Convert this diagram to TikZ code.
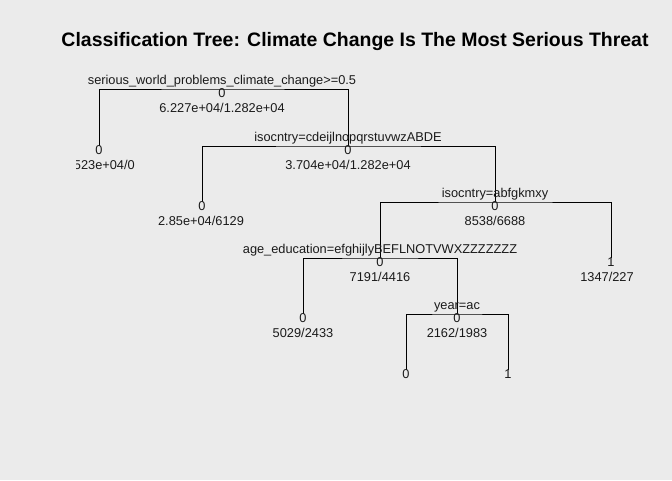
\documentclass[tikz,border=0pt]{standalone}
\usepackage{fontspec}
\setmainfont{Liberation Sans}
\usetikzlibrary{positioning,calc}
\definecolor{bgGray}{HTML}{EBEBEB}
\definecolor{inkT}{HTML}{1A1A1A}

\begin{document}
\begin{tikzpicture}[x=0.75pt,y=-0.75pt,
  edge/.style={draw=black,line width=0.75pt},
  split/.style={font=\fontsize{9.6}{11}\selectfont,text=inkT,anchor=base,inner sep=0pt},
  cls/.style={font=\fontsize{9.6}{11}\selectfont,text=inkT,anchor=base,inner sep=0pt},
  stat/.style={font=\fontsize{9.6}{11}\selectfont,text=inkT,anchor=base,inner sep=0pt},
  ttl/.style={font=\fontsize{14.6}{17}\selectfont\bfseries,text=black,anchor=base,inner sep=0pt}]

  \fill[bgGray] (0,0) rectangle (672,480);
  \useasboundingbox (0,0) rectangle (672,480);

  \node[ttl] (title) at (355,46) {Classification Tree: Climate Change Is The Most Serious Threat};

  % split points and leaves
  \coordinate (root) at (222,89);
  \coordinate (leafA) at (99,146);
  \coordinate (n2) at (348,146);
  \coordinate (leafB) at (202,202);
  \coordinate (n3) at (495,202);
  \coordinate (n4) at (380,258);
  \coordinate (leafC) at (611,258);
  \coordinate (leafD) at (303,314);
  \coordinate (n5) at (457,314);
  \coordinate (leafE) at (406,370);
  \coordinate (leafF) at (508,370);

  \draw[edge] (leafA) |- (root) -| (n2);
  \draw[edge] (leafB) |- (n2) -| (n3);
  \draw[edge] (n4) |- (n3) -| (leafC);
  \draw[edge] (leafD) |- (n4) -| (n5);
  \draw[edge] (leafE) |- (n5) -| (leafF);

  \node[split] (sRoot) at ($(root)+(0,-5)$) {serious\_world\_problems\_climate\_change>=0.5};
  \node[split] (s2) at ($(n2)+(0,-5)$) {isocntry=cdeijlnopqrstuvwzABDE};
  \node[split] (s3) at ($(n3)+(0,-5)$) {isocntry=abfgkmxy};
  \node[split] (s4) at ($(n4)+(0,-5)$) {age\_education=efghijlyBEFLNOTVWXZZZZZZZ};
  \node[split] (s5) at ($(n5)+(0,-5)$) {year=ac};

  \node[cls] (cRoot) at ($(root)+(0,8)$) {0};
  \node[cls] (cA) at ($(leafA)+(0,8)$) {0};
  \node[cls] (c2) at ($(n2)+(0,8)$) {0};
  \node[cls] (cB) at ($(leafB)+(0,8)$) {0};
  \node[cls] (c3) at ($(n3)+(0,8)$) {0};
  \node[cls] (c4) at ($(n4)+(0,8)$) {0};
  \node[cls] (cC) at ($(leafC)+(0,8)$) {1};
  \node[cls] (cD) at ($(leafD)+(0,8)$) {0};
  \node[cls] (c5) at ($(n5)+(0,8)$) {0};
  \node[cls] (cE) at ($(leafE)+(0,8)$) {0};
  \node[cls] (cF) at ($(leafF)+(0,8)$) {1};

  \node[stat] (tRoot) at ($(root)+(0,23)$) {6.227e+04/1.282e+04};
  \begin{scope}
    \clip (76,0) rectangle (672,480);
    \node[stat] (tA) at ($(leafA)+(0,23)$) {2.523e+04/0};
  \end{scope}
  \node[stat] (t2) at ($(n2)+(0,23)$) {3.704e+04/1.282e+04};
  \node[stat] (tB) at ($(leafB)+(-1,23)$) {2.85e+04/6129};
  \node[stat] (t3) at ($(n3)+(0,23)$) {8538/6688};
  \node[stat] (t4) at ($(n4)+(0,23)$) {7191/4416};
  \node[stat] (tC) at ($(leafC)+(-4,23)$) {1347/227};
  \node[stat] (tD) at ($(leafD)+(0,23)$) {5029/2433};
  \node[stat] (t5) at ($(n5)+(0,23)$) {2162/1983};
\end{tikzpicture}
\end{document}
